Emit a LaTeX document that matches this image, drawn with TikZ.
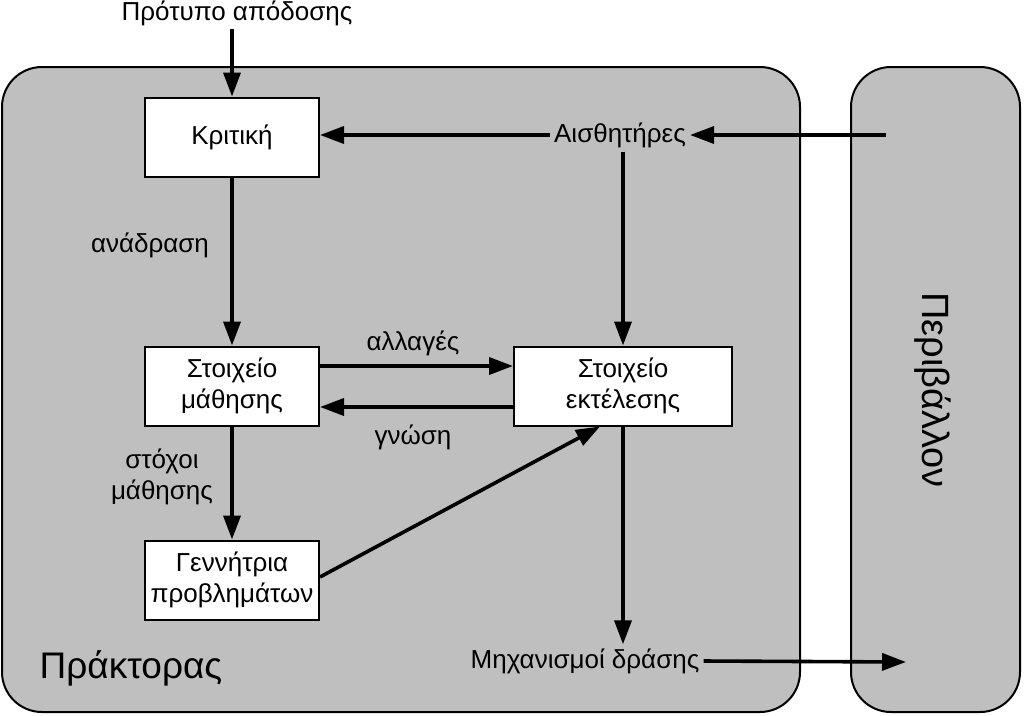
\documentclass[tikz,border=0pt]{standalone}
\usepackage{fontspec}
\setmainfont{Liberation Sans}
\usepackage{tikz}
\usetikzlibrary{arrows.meta}

\begin{document}
\begin{tikzpicture}[x=1pt, y=-1pt,
            panel/.style={draw=black, line width=2pt, fill=black!25, rounded corners=40pt},
            unit/.style={draw=black, line width=2pt, fill=white, align=center, minimum width=174pt, minimum height=79pt},
            flow/.style={line width=3.6pt, -{Triangle[length=24pt, width=17pt]}},
            word/.style={align=center, font=\fontsize{26}{31}\selectfont}
        ]
            \useasboundingbox (0, 0) rectangle (1024, 715);
            \tikzset{every node/.style={font=\fontsize{26}{31}\selectfont}}

            % agent and environment
            \draw[panel] (2, 67) rectangle (800, 712);
            \draw[panel] (851, 67) rectangle (1020, 712);
            \node[font=\fontsize{37}{40}\selectfont] (agent) at (131, 668) {Πράκτορας};
            \node[font=\fontsize{38}{42}\selectfont, rotate=-90] (world) at (933, 390) {Περιβάλλον};

            % units
            \node[unit] (critic) at (232, 137) {Κριτική};
            \node[unit] (learn) at (232, 386) {Στοιχείο\\μάθησης};
            \node[unit, minimum width=218pt] (perf) at (623, 386) {Στοιχείο\\εκτέλεσης};
            \node[unit] (gen) at (232, 580) {Γεννήτρια\\προβλημάτων};

            % texts
            \node[word] (standard) at (237, 13) {Πρότυπο απόδοσης};
            \node[word, inner sep=4pt] (sensors) at (620, 135) {Αισθητήρες};
            \node[word, inner sep=4pt] (effectors) at (585, 661) {Μηχανισμοί δράσης};
            \node[word] (feedback) at (150, 245) {ανάδραση};
            \node[word] (changes) at (413, 343) {αλλαγές};
            \node[word] (knowledge) at (413, 437) {γνώση};
            \node[word] (goals) at (162, 477) {στόχοι\\μάθησης};

            % free ends
            \coordinate (percept) at (886, 135);
            \coordinate (action) at (906, 662);

            % connectors
            \draw[flow] (standard.south -| critic.north) -- (critic.north);
            \draw[flow] (percept) -- (sensors.east);
            \draw[flow] (sensors.west) -- (sensors.west -| critic.east);
            \draw[flow] (sensors.south -| perf.north) -- (perf.north);
            \draw[flow] (critic.south) -- (learn.north);
            \draw[flow] ([yshift=20pt]learn.east) -- ([yshift=20pt]perf.west);
            \draw[flow] ([yshift=-21pt]perf.west) -- ([yshift=-21pt]learn.east);
            \draw[flow] (learn.south) -- (gen.north);
            \draw[flow] ([yshift=3pt]gen.east) -- ([xshift=-23pt]perf.south);
            \draw[flow] (perf.south) -- (effectors.north -| perf.south);
            \draw[flow] (effectors.east) -- (action);

        \end{tikzpicture}
\end{document}
